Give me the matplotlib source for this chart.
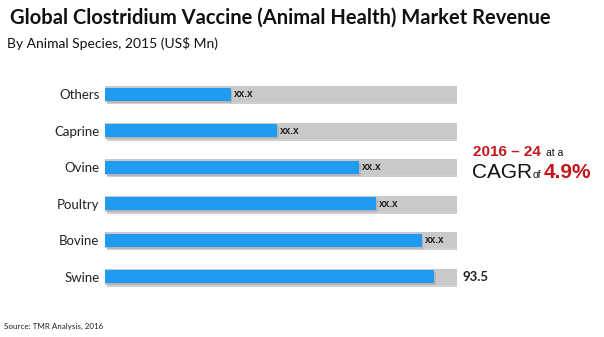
import numpy as np
import matplotlib.pyplot as plt
import matplotlib.patheffects as pe

# Data
species = ['Others', 'Caprine', 'Ovine', 'Poultry', 'Bovine', 'Swine']
revenue = [35.7, 49.0, 72.2, 77.0, 90.0, 93.5]
labels = ['xx.x', 'xx.x', 'xx.x', 'xx.x', 'xx.x', '93.5']
full_scale = 100

blue = '#1f9bf2'
gray = '#c9c9c9'
red = '#c3161c'

fig = plt.figure(figsize=(6.04, 3.37), dpi=100)
ax = fig.add_axes([105 / 604, 1 - 295 / 337, 352 / 604, 219 / 337])

y = np.arange(len(species))
shadow = [pe.SimplePatchShadow(offset=(1.2, -1.5), shadow_rgbFace='#a0a0a0', alpha=0.5), pe.Normal()]

bg = ax.barh(y, [full_scale] * len(species), height=0.44, color=gray, zorder=1)
for b in bg:
    b.set_path_effects(shadow)
fg = ax.barh(y, revenue, height=0.36, color=blue, zorder=2)
for b in fg:
    b.set_path_effects(shadow)

for i, (v, lab) in enumerate(zip(revenue, labels)):
    if lab == '93.5':
        ax.text(full_scale + 1.5, i, lab, va='center', ha='left', fontsize=9.5,
                fontweight='bold', family='Lato', color='#222222')
    else:
        ax.text(v + 0.8, i, lab, va='center', ha='left', fontsize=7.3,
                fontweight='bold', family='Liberation Sans', color='#222222')

ax.set_xlim(0, full_scale)
ax.set_ylim(len(species) - 0.5, -0.5)
ax.set_yticks(y)
ax.set_yticklabels(species, fontsize=9.5, family='Lato', color='#222222')
ax.tick_params(axis='y', length=0, pad=4)
ax.set_xticks([])
for s in ax.spines.values():
    s.set_visible(False)

fig.text(10 / 604, 1 - 18 / 337, 'Global Clostridium Vaccine (Animal Health) Market Revenue',
         fontsize=14.5, fontweight='bold', family='Lato', va='center', ha='left', color='#111111')
fig.text(7 / 604, 1 - 43 / 337, 'By Animal Species, 2015 (US$ Mn)',
         fontsize=10, family='Lato', va='center', ha='left', color='#111111')
fig.text(4 / 604, 1 - 326 / 337, 'Source: TMR Analysis, 2016',
         fontsize=5.8, family='Lato', va='center', ha='left', color='#222222')

# CAGR callout
fig.text(473 / 604, 1 - 152 / 337, '2016 – 24', fontsize=11, fontweight='bold',
         family='Liberation Sans', color=red, va='center', ha='left')
fig.text(546 / 604, 1 - 153 / 337, 'at a', fontsize=7.5, family='Liberation Sans',
         color='#111111', va='center', ha='left')
fig.text(472 / 604, 1 - 173 / 337, 'CAGR', fontsize=15, family='Liberation Sans',
         color='#111111', va='center', ha='left')
fig.text(533 / 604, 1 - 175 / 337, 'of', fontsize=7.5, family='Liberation Sans',
         color='#111111', va='center', ha='left')
fig.text(544 / 604, 1 - 172 / 337, '4.9%', fontsize=15, fontweight='bold',
         family='Liberation Sans', color=red, va='center', ha='left')

fig.savefig('out.png', dpi=100)
